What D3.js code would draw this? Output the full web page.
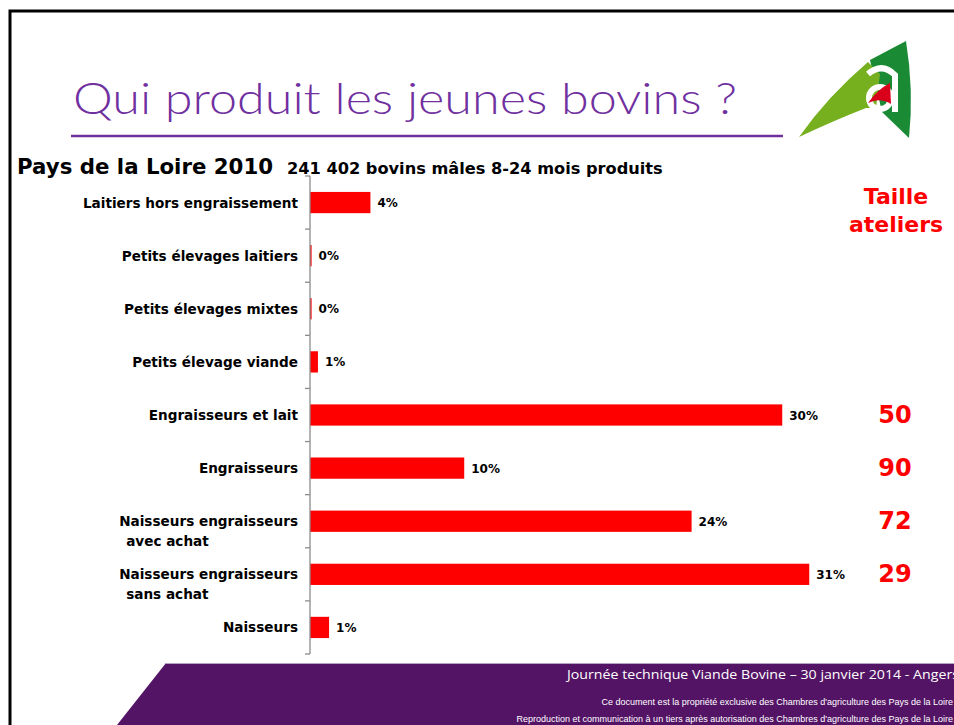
<!DOCTYPE html>
<html><head><meta charset="utf-8">
<script src="https://cdn.jsdelivr.net/npm/d3@7"></script>
<style>body{margin:0;background:#fff}svg{display:block}</style>
</head><body>
<svg id="c" width="954" height="725"></svg>
<script>
const categories = ["Laitiers hors engraissement","Petits élevages laitiers","Petits élevages mixtes","Petits élevage viande","Engraisseurs et lait","Engraisseurs","Naisseurs engraisseurs\navec achat","Naisseurs engraisseurs\nsans achat","Naisseurs"];
const values = [3.8, 0.1, 0.1, 0.5, 29.7, 9.7, 24.0, 31.4, 1.2];
const valueLabels = ["4%","0%","0%","1%","30%","10%","24%","31%","1%"];
const atelierSizes = [null,null,null,null,"50","90","72","29",null];
const xDomain = [0, 40];

const svg = d3.select("#c");
svg.append("rect").attr("width",954).attr("height",725).attr("fill","#fff");

// frame
svg.append("path").attr("d","M954,11H10V725").attr("fill","none").attr("stroke","#000").attr("stroke-width",3);

// title
svg.append("text").attr("x",73).attr("y",114).attr("font-family","Lato, 'Open Sans', sans-serif")
  .attr("font-weight",300).attr("font-size",44).attr("fill","#7030A0")
  .attr("textLength",664).attr("lengthAdjust","spacingAndGlyphs")
  .text("Qui produit les jeunes bovins ?");
svg.append("line").attr("x1",71).attr("x2",783).attr("y1",136).attr("y2",136).attr("stroke","#7030A0").attr("stroke-width",2.5);

// logo
const logo = svg.append("g");
logo.append("path").attr("d","M906,41 Q914,90 909,138 L882,112 L870,60 Z").attr("fill","#1a8a35");
logo.append("path").attr("d","M799,137 Q828,96 868,62 L880,74 L876,108 L866,108 Q835,120 799,137 Z").attr("fill","#76b01f");
logo.append("path").attr("d","M868,74 Q882,62 895,75 L895,112").attr("fill","none").attr("stroke","#fff").attr("stroke-width",6);
logo.append("circle").attr("cx",880).attr("cy",98).attr("r",11).attr("fill","none").attr("stroke","#fff").attr("stroke-width",6);
logo.append("path").attr("d","M868,103 Q878,89 890,83 L891,104 Q880,97 868,103 Z").attr("fill","#d9001b");

// subtitle
svg.append("text").attr("x",17).attr("y",174).attr("font-family","'DejaVu Sans', sans-serif").attr("font-weight","bold").attr("font-size",21.3).attr("fill","#000").text("Pays de la Loire 2010");
svg.append("text").attr("x",287).attr("y",174).attr("font-family","'DejaVu Sans', sans-serif").attr("font-weight","bold").attr("font-size",16.2).attr("fill","#000").text("241 402 bovins mâles 8-24 mois produits");

// scales
const y = d3.scaleBand().domain(categories).range([176,654]).paddingInner(0.6).paddingOuter(0.3);
const x = d3.scaleLinear().domain(xDomain).range([310,946]);
const step = y.step();
const cy = d => y(d) + y.bandwidth()/2;

// bars
svg.append("g").selectAll("rect").data(categories).join("rect")
  .attr("x",x(0)).attr("y",d=>y(d)).attr("height",y.bandwidth())
  .attr("width",(d,i)=>Math.max(1,x(values[i])-x(0))).attr("fill","#ff0000");

// axis
const ax = svg.append("g").attr("stroke","#8c8c8c").attr("stroke-width",1.3);
ax.append("line").attr("x1",x(0)).attr("x2",x(0)).attr("y1",176).attr("y2",654);
ax.selectAll(".tk").data(d3.range(categories.length+1)).join("line")
  .attr("x1",x(0)-5).attr("x2",x(0)).attr("y1",i=>176+i*step).attr("y2",i=>176+i*step);

// value labels
svg.append("g").selectAll("text").data(categories).join("text")
  .attr("x",(d,i)=>x(values[i])+7).attr("y",d=>cy(d)+4.5)
  .attr("font-family","'DejaVu Sans', sans-serif").attr("font-weight","bold").attr("font-size",12).attr("fill","#000")
  .text((d,i)=>valueLabels[i]);

// category labels
const lg = svg.append("g").attr("font-family","'DejaVu Sans', sans-serif").attr("font-weight","bold").attr("font-size",13.6).attr("fill","#000");
categories.forEach(c=>{
  const lines = c.split("\n");
  const t1 = lg.append("text").attr("x",298).attr("y",cy(c)+5).attr("text-anchor","end").text(lines[0]);
  if(lines.length>1){
    const bb = t1.node().getBBox();
    lg.append("text").attr("x",bb.x+7).attr("y",cy(c)+25).text(lines[1]);
  }
});

// Taille ateliers
const tg = svg.append("g").attr("font-family","'DejaVu Sans', sans-serif").attr("font-weight","bold").attr("fill","#ff0000").attr("text-anchor","middle");
tg.append("text").attr("x",896).attr("y",204).attr("font-size",22).text("Taille");
tg.append("text").attr("x",896).attr("y",232).attr("font-size",22).text("ateliers");
tg.selectAll(".n").data(categories.filter((c,i)=>atelierSizes[i])).join("text")
  .attr("x",895).attr("y",d=>cy(d)+8).attr("font-size",24)
  .text(d=>atelierSizes[categories.indexOf(d)]);

// footer
svg.append("path").attr("d","M166,663L954,663L954,725L117,725Z").attr("fill","#541466");
svg.append("line").attr("x1",166).attr("x2",954).attr("y1",663.5).attr("y2",663.5).attr("stroke","#b8a2c4").attr("stroke-width",1);
svg.append("text").attr("x",567).attr("y",679).attr("font-family","'Open Sans', sans-serif").attr("font-size",13.5).attr("fill","#fff")
  .attr("textLength",392).attr("lengthAdjust","spacingAndGlyphs").text("Journée technique Viande Bovine – 30 janvier 2014 - Angers");
svg.append("text").attr("x",953).attr("y",705).attr("text-anchor","end").attr("font-family","'Liberation Sans', Arial, sans-serif").attr("font-size",9).attr("fill","#fff")
  .text("Ce document est la propriété exclusive des Chambres d'agriculture des Pays de la Loire");
svg.append("text").attr("x",953).attr("y",722).attr("text-anchor","end").attr("font-family","'Liberation Sans', Arial, sans-serif").attr("font-size",9).attr("fill","#fff")
  .text("Reproduction et communication à un tiers après autorisation des Chambres d'agriculture des Pays de la Loire");
</script>
</body></html>
